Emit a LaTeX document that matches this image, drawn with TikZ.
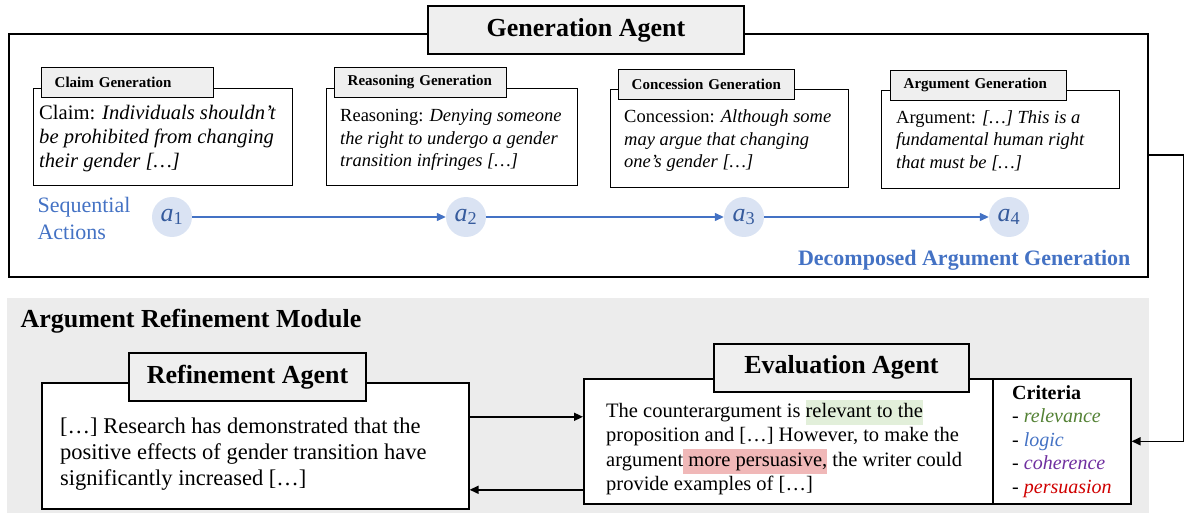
\documentclass[tikz,border=0pt]{standalone}
\usepackage{fontspec}
\setmainfont{Liberation Serif}
\usepackage{xcolor}
\usepackage{tikz}
\usetikzlibrary{positioning,arrows.meta}

\definecolor{actblue}{HTML}{4472C4}
\definecolor{actfill}{HTML}{DAE3F3}
\definecolor{tabgray}{HTML}{EFEFEF}
\definecolor{modgray}{HTML}{ECECEC}
\definecolor{relgreen}{HTML}{548235}
\definecolor{cohpurple}{HTML}{7030A0}
\definecolor{perred}{HTML}{D00000}
\definecolor{hlgreen}{HTML}{E2EFDA}
\definecolor{hlred}{HTML}{F0B8B8}

\newcommand{\hlbox}[2]{{\setlength{\fboxsep}{0pt}\colorbox{#1}{\strut #2}}}

\begin{document}
\begin{tikzpicture}[x=1pt,y=-1pt,
  frame/.style={draw,line width=1.6pt},
  title/.style={draw,line width=2pt,fill=tabgray,minimum height=48pt,
    font=\fontsize{26}{30}\selectfont\bfseries},
  tabbox/.style={draw,line width=1.4pt,fill=tabgray,minimum height=30pt,
    anchor=south west,align=left,inner xsep=13pt,
    font=\fontsize{15}{18}\selectfont\bfseries},
  card/.style={draw,line width=1.4pt,anchor=north west,inner sep=0pt},
  cardtext/.style={anchor=west,align=left,inner sep=0pt,
    font=\fontsize{18.5}{22.5}\selectfont},
  act/.style={circle,fill=actfill,text=actblue!80!black,minimum size=40pt,
    inner sep=0pt,font=\fontsize{26}{26}\selectfont},
  flow/.style={-{Triangle[length=9pt,width=8pt]},actblue,line width=1.3pt},
  link/.style={-{Triangle[length=9pt,width=8pt]},line width=1.6pt}]
  \useasboundingbox (0,0) rectangle (1184,513);

  % refinement module background
  \fill[modgray] (7,298) rectangle (1149,513);

  % generation agent
  \node[frame,anchor=north west,minimum width=1139pt,minimum height=243pt,inner sep=0pt] (genframe) at (8,33) {};
  \node[title,minimum width=316pt] (gentitle) at (586,30) {Generation Agent};

  \node[card,minimum width=259pt,minimum height=97pt] (claim) at (33,88) {};
  \node[card,minimum width=251pt,minimum height=97pt] (reason) at (326,88) {};
  \node[card,minimum width=238pt,minimum height=98pt] (concede) at (610,89) {};
  \node[card,minimum width=238pt,minimum height=98pt] (argue) at (881,90) {};

  \node[cardtext,font=\fontsize{20.6}{24}\selectfont] (claimtext) at ([xshift=6pt,yshift=-1pt]claim.west)
    {Claim: \textit{Individuals shouldn’t}\\\textit{be prohibited from changing}\\\textit{their gender […]}};
  \node[cardtext] (reasontext) at ([xshift=14pt,yshift=-3pt]reason.west)
    {Reasoning: \textit{Denying someone}\\\textit{the right to undergo a gender}\\\textit{transition infringes […]}};
  \node[cardtext] (concedetext) at ([xshift=14pt,yshift=-2pt]concede.west)
    {Concession: \textit{Although some}\\\textit{may argue that changing}\\\textit{one’s gender […]}};
  \node[cardtext] (arguetext) at ([xshift=15pt,yshift=-1pt]argue.west)
    {Argument: \textit{[…] This is a}\\\textit{fundamental human right}\\\textit{that must be […]}};

  \node[tabbox,text width=146pt] (claimtab) at ([xshift=8pt,yshift=-10pt]claim.north west) {Claim Generation};
  \node[tabbox,text width=146pt] (reasontab) at ([xshift=8pt,yshift=-10pt]reason.north west) {Reasoning Generation};
  \node[tabbox,text width=150pt] (concedetab) at ([xshift=8pt,yshift=-11pt]concede.north west) {Concession Generation};
  \node[tabbox,text width=150pt] (arguetab) at ([xshift=9pt,yshift=-11pt]argue.north west) {Argument Generation};

  % sequential actions
  \node[anchor=west,align=left,text=actblue,font=\fontsize{22}{27}\selectfont] (seqlabel) at (34,218) {Sequential\\Actions};
  \foreach \i/\x in {1/172,2/466,3/744,4/1009}
    \node[act] (a\i) at (\x,217) {\textit{a}\textsubscript{\i}};
  \foreach \i/\j in {1/2,2/3,3/4}
    \draw[flow] (a\i) -- (a\j);
  \node[anchor=east,text=actblue,font=\fontsize{22}{26}\selectfont\bfseries] (declabel) at (1134,260) {Decomposed Argument Generation};

  % refinement module
  \node[anchor=west,font=\fontsize{26}{30}\selectfont\bfseries] (modlabel) at (17,321) {Argument Refinement Module};

  \node[frame,fill=white,anchor=north west,minimum width=427pt,minimum height=126pt] (refine) at (41,382) {};
  \node[anchor=west,align=left,inner sep=0pt,font=\fontsize{22.5}{26}\selectfont] (refinetext) at ([xshift=19pt,yshift=-8pt]refine.west)
    {[…] Research has demonstrated that the\\positive effects of gender transition have\\significantly increased […]};
  \node[title,minimum width=237pt] (reftitle) at (247.5,377) {Refinement Agent};

  \node[frame,fill=white,anchor=north west,minimum width=409pt,minimum height=125pt] (eval) at (583,378) {};
  \node[anchor=west,align=left,inner sep=0pt,font=\fontsize{20.5}{24.5}\selectfont] (evaltext) at ([xshift=23pt,yshift=-6.5pt]eval.west)
    {The counterargument is \hlbox{hlgreen}{relevant to the}\\proposition and […] However, to make the\\argument\hlbox{hlred}{\ more persuasive,} the writer could\\provide examples of […]};
  \node[frame,fill=white,anchor=north west,minimum width=138pt,minimum height=125pt] (crit) at (992,378) {};
  \node[anchor=west,align=left,inner sep=0pt,font=\fontsize{20}{23.5}\selectfont] (crittext) at ([xshift=20pt]crit.west)
    {\textbf{Criteria}\\- \textcolor{relgreen}{\textit{relevance}}\\- \textcolor{actblue}{\textit{logic}}\\- \textcolor{cohpurple}{\textit{coherence}}\\- \textcolor{perred}{\textit{persuasion}}};
  \node[title,minimum width=255pt] (evaltitle) at (841.5,367.5) {Evaluation Agent};

  % connectors
  \draw[link] ([yshift=29pt]refine.east) -- ([yshift=29pt]refine.east -| eval.west);
  \draw[link] ([yshift=-44pt]refine.east -| eval.west) -- ([yshift=-44pt]refine.east);
  \draw[link] (genframe.east) -- ++(35,0) |- (crit.east);
\end{tikzpicture}
\end{document}
